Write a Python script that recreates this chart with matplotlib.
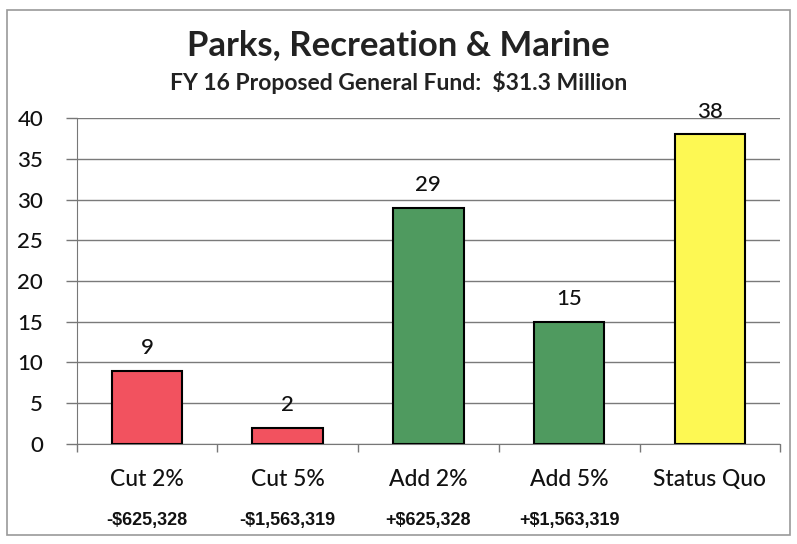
import matplotlib.pyplot as plt
import matplotlib.patches as mpatches
import matplotlib.transforms as mtransforms
import numpy as np

OUTPUT = "out.png"

# data
categories = ["Cut 2%", "Cut 5%", "Add 2%", "Add 5%", "Status Quo"]
amounts = ["-$625,328", "-$1,563,319", "+$625,328", "+$1,563,319", ""]
votes = [9, 2, 29, 15, 38]
colors = ["#f2525f", "#f2525f", "#4f9a5f", "#4f9a5f", "#fdf853"]

plt.rcParams["font.family"] = ["Lato", "DejaVu Sans"]
plt.rcParams["font.weight"] = "medium"

fig = plt.figure(figsize=(7.97, 5.44), dpi=100)
ax = fig.add_axes([0.096, 0.184, 0.883, 0.599])

x = np.arange(len(categories))
ax.bar(x, votes, width=0.5, color=colors, edgecolor="black", linewidth=1.5, zorder=3)

for xi, v in zip(x, votes):
    ax.text(xi, v + 1.5, str(v), ha="center", va="bottom", fontsize=16, zorder=4,
            color="#111111", fontweight="medium")

ax.set_xlim(-0.5, len(categories) - 0.5)
ax.set_ylim(0, 40)
ax.set_yticks(range(0, 41, 5))
ax.tick_params(axis="y", labelsize=16, length=8, width=1, color="#777777", pad=16,
               labelcolor="#111111")
ax.yaxis.grid(True, color="#7a7a7a", linewidth=1)
ax.set_axisbelow(True)

# ticks between categories
ax.set_xticks(np.arange(-0.5, len(categories), 1.0))
ax.set_xticklabels([])
ax.tick_params(axis="x", length=6, width=1, color="#777777")

for s in ["top", "right"]:
    ax.spines[s].set_visible(False)
ax.spines["left"].set_color("#777777")
ax.spines["bottom"].set_color("#777777")

trans = mtransforms.blended_transform_factory(ax.transData, fig.transFigure)
for xi, c, a in zip(x, categories, amounts):
    ax.text(xi, 0.118, c, ha="center", va="center", fontsize=16.5, color="#111111",
            fontweight="medium", transform=trans)
    ax.text(xi, 0.044, a, ha="center", va="center", fontsize=13, fontweight="bold",
            fontfamily=["Liberation Sans Narrow", "Liberation Sans", "DejaVu Sans"],
            color="#111111", transform=trans)

fig.text(0.5, 0.917, "Parks, Recreation & Marine", ha="center", va="center",
         fontsize=25, fontweight="bold", color="#222222")
fig.text(0.5, 0.849, "FY 16 Proposed General Fund:  $31.3 Million", ha="center",
         va="center", fontsize=16.5, fontweight="bold", color="#222222")

# outer frame
fig.patches.append(mpatches.Rectangle((0.009, 0.016), 0.982, 0.966, transform=fig.transFigure,
                                      fill=False, edgecolor="#999999", linewidth=1.2))

fig.savefig(OUTPUT, dpi=100)
